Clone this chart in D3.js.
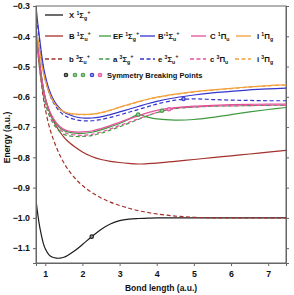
<!DOCTYPE html>
<html><head><meta charset="utf-8">
<script src="https://cdn.jsdelivr.net/npm/d3@7"></script>
<style>body{margin:0;background:#fff}svg{display:block}text{font-family:"Liberation Sans",Arial,sans-serif;font-weight:bold;fill:#111}</style>
</head><body>
<script>
// ---- data ----
const bondLength = [0.75,0.8,0.85,0.9,0.95,1.0,1.1,1.2,1.3,1.4,1.5,1.6,1.8,2.0,2.25,2.5,2.75,3.0,3.25,3.5,3.75,4.0,4.5,5.0,5.5,6.0,6.5,7.0,7.5];
const X1Sg = [-0.94,-0.99,-1.03,-1.06,-1.085,-1.102,-1.122,-1.13,-1.133,-1.133,-1.13,-1.124,-1.108,-1.088,-1.062,-1.038,-1.02,-1.009,-1.004,-1.002,-1.001,-1.0,-1.0,-1.0,-1.0,-1.0,-1.0,-1.0,-1.0];
const B1Su = [-0.39,-0.44,-0.49,-0.535,-0.575,-0.605,-0.645,-0.675,-0.698,-0.717,-0.733,-0.746,-0.766,-0.782,-0.797,-0.807,-0.813,-0.817,-0.82,-0.822,-0.821,-0.819,-0.813,-0.807,-0.801,-0.795,-0.789,-0.783,-0.777];
const EF1Sg = [-0.39,-0.44,-0.49,-0.535,-0.575,-0.605,-0.645,-0.672,-0.69,-0.703,-0.711,-0.716,-0.72,-0.721,-0.717,-0.709,-0.699,-0.688,-0.674,-0.659,-0.667,-0.673,-0.677,-0.675,-0.668,-0.659,-0.65,-0.642,-0.635];
const Bp1Su = [-0.30,-0.36,-0.41,-0.46,-0.50,-0.53,-0.575,-0.605,-0.625,-0.639,-0.65,-0.657,-0.666,-0.67,-0.67,-0.666,-0.659,-0.65,-0.641,-0.632,-0.623,-0.615,-0.603,-0.594,-0.587,-0.582,-0.577,-0.574,-0.571];
const C1Pu = [-0.39,-0.44,-0.49,-0.535,-0.573,-0.603,-0.642,-0.668,-0.686,-0.699,-0.707,-0.712,-0.716,-0.716,-0.713,-0.705,-0.695,-0.684,-0.673,-0.663,-0.653,-0.645,-0.636,-0.631,-0.628,-0.626,-0.625,-0.624,-0.624];
const I1Pg = [-0.37,-0.41,-0.45,-0.49,-0.52,-0.545,-0.585,-0.612,-0.63,-0.642,-0.649,-0.653,-0.657,-0.658,-0.657,-0.652,-0.644,-0.634,-0.625,-0.616,-0.608,-0.601,-0.591,-0.583,-0.577,-0.572,-0.567,-0.563,-0.56];
const b3Su = [-0.39,-0.45,-0.51,-0.56,-0.605,-0.64,-0.695,-0.735,-0.767,-0.795,-0.818,-0.838,-0.869,-0.893,-0.916,-0.934,-0.948,-0.959,-0.968,-0.976,-0.982,-0.987,-0.994,-0.998,-1.0,-1.0,-1.0,-1.0,-1.0];
const a3Sg = [-0.40,-0.455,-0.51,-0.555,-0.593,-0.623,-0.66,-0.686,-0.703,-0.716,-0.724,-0.728,-0.731,-0.731,-0.728,-0.72,-0.71,-0.699,-0.687,-0.675,-0.663,-0.652,-0.639,-0.634,-0.631,-0.63,-0.629,-0.628,-0.628];
const e3Su = [-0.32,-0.37,-0.42,-0.47,-0.51,-0.54,-0.585,-0.615,-0.635,-0.65,-0.66,-0.667,-0.675,-0.679,-0.679,-0.675,-0.668,-0.66,-0.651,-0.642,-0.633,-0.624,-0.611,-0.607,-0.609,-0.611,-0.612,-0.613,-0.613];
const c3Pu = [-0.40,-0.45,-0.50,-0.545,-0.583,-0.613,-0.652,-0.678,-0.696,-0.709,-0.717,-0.722,-0.726,-0.727,-0.724,-0.716,-0.706,-0.695,-0.684,-0.673,-0.662,-0.652,-0.638,-0.634,-0.631,-0.63,-0.629,-0.628,-0.628];
const i3Pg = [-0.371,-0.411,-0.451,-0.491,-0.521,-0.546,-0.586,-0.613,-0.631,-0.643,-0.65,-0.654,-0.658,-0.659,-0.658,-0.653,-0.645,-0.635,-0.626,-0.617,-0.609,-0.602,-0.592,-0.584,-0.578,-0.573,-0.568,-0.564,-0.561];
const breakR = [2.25,3.5,4.14,4.72,4.33];
const breakE = [-1.062,-0.659,-0.646,-0.607,-0.641];
const breakState = ["X","EF","a","e","c"];
const xTicks = [1,2,3,4,5,6,7];
const yTicks = [-0.3,-0.4,-0.5,-0.6,-0.7,-0.8,-0.9,-1.0,-1.1];
const xTitle = "Bond length (a.u.)";
const yTitle = "Energy (a.u.)";
const breakLabel = "Symmetry Breaking Points";

// ---- styles ----
const C = {black:"#1c1c1c", red:"#a3302a", green:"#3f9a3f", blue:"#3535cc", pink:"#e4509c", orange:"#f2a03c"};
const series = [
  {id:"i", v:i3Pg, c:C.orange, d:true, lab:["i ","3","Π","g",""]},
  {id:"X", v:X1Sg, c:C.black, d:false, lab:["X ","1","Σ","g","+"]},
  {id:"B", v:B1Su, c:C.red, d:false, lab:["B ","1","Σ","u","+"]},
  {id:"b", v:b3Su, c:C.red, d:true, lab:["b ","3","Σ","u","+"]},
  {id:"a", v:a3Sg, c:C.green, d:true, lab:["a ","3","Σ","g","+"]},
  {id:"c", v:c3Pu, c:C.pink, d:true, lab:["c ","3","Π","u",""]},
  {id:"EF", v:EF1Sg, c:C.green, d:false, lab:["EF ","1","Σ","g","+"]},
  {id:"C", v:C1Pu, c:C.pink, d:false, lab:["C ","1","Π","u",""]},
  {id:"e", v:e3Su, c:C.blue, d:true, lab:["e ","3","Σ","u","+"]},
  {id:"Bp", v:Bp1Su, c:C.blue, d:false, lab:["B'","1","Σ","u","+"]},
  {id:"I", v:I1Pg, c:C.orange, d:false, lab:["I ","1","Π","g",""]}
];
const byId = Object.fromEntries(series.map(s=>[s.id,s]));

const W=294,H=295, m={l:36,r:8,t:6,b:32};
const svg=d3.select("body").append("svg").attr("width",W).attr("height",H);
const x=d3.scaleLinear().domain([0.75,7.48]).range([m.l,W-m.r]);
const y=d3.scaleLinear().domain([-1.149,-0.3]).range([H-m.b,m.t]);

// frame
svg.append("rect").attr("x",m.l).attr("y",m.t).attr("width",W-m.l-m.r).attr("height",H-m.t-m.b)
  .attr("fill","none").attr("stroke","#666").attr("stroke-width",1);

const plot=svg.append("g");
plot.append("clipPath").attr("id","cp").append("rect").attr("x",m.l).attr("y",m.t-1).attr("width",W-m.l-m.r).attr("height",H-m.t-m.b+1);
const lg=plot.append("g").attr("clip-path","url(#cp)");
const line=d3.line().x((d,i)=>x(bondLength[i])).y(d=>y(d)).curve(d3.curveCatmullRom.alpha(0.5));
series.forEach(s=>{
  lg.append("path").attr("d",line(s.v)).attr("fill","none").attr("stroke",s.c)
    .attr("stroke-width",1.2).attr("stroke-dasharray",s.d?"4,2.5":null);
});

// markers
function marker(g,cx,cy,col){
  g.append("circle").attr("cx",cx).attr("cy",cy).attr("r",2.3).attr("fill",col);
  g.append("path").attr("d",`M${cx-1.4},${cy}H${cx+1.4}M${cx},${cy-1.4}V${cy+1.4}`).attr("stroke","#fff").attr("stroke-width",0.7).attr("opacity",0.7);
}
breakR.forEach((r,i)=>marker(svg,x(r),y(breakE[i]),byId[breakState[i]].c));

// axes
const axL=svg.append("g").attr("transform",`translate(${m.l},0)`).call(d3.axisLeft(y).tickValues(yTicks).tickSize(3).tickFormat(d3.format(".1f")));
const axR=svg.append("g").attr("transform",`translate(${W-m.r},0)`).call(d3.axisRight(y).tickValues(yTicks).tickSize(3).tickFormat(""));
const axB=svg.append("g").attr("transform",`translate(0,${H-m.b})`).call(d3.axisBottom(x).tickValues(xTicks).tickSize(3).tickFormat(d3.format("d")));
[axL,axR,axB].forEach(a=>{a.select(".domain").attr("stroke","#666");a.selectAll(".tick line").attr("stroke","#666");
  a.selectAll("text").attr("font-size",8.8).attr("font-family","Liberation Sans, Arial, sans-serif").attr("font-weight","bold").attr("fill","#111");});
axL.selectAll("text").attr("x",-6);
axB.selectAll("text").attr("y",8);

svg.append("text").attr("x",(m.l+W-m.r)/2).attr("y",291).attr("text-anchor","middle").attr("font-size",8.5).text(xTitle);
svg.append("text").attr("transform",`translate(10,${(m.t+H-m.b)/2+3}) rotate(-90)`).attr("text-anchor","middle").attr("font-size",8.5).text(yTitle);

// legend
function label(g,tx,ty,lab){
  const t=g.append("text").attr("x",tx).attr("y",ty).attr("font-size",7.8);
  t.append("tspan").text(lab[0]);
  t.append("tspan").attr("font-size",5.2).attr("dy",-3.2).text(lab[1]);
  t.append("tspan").attr("dy",3.2).text(lab[2]);
  t.append("tspan").attr("font-size",5.2).attr("dy",2.2).text(lab[3]);
  if(lab[4]) t.append("tspan").attr("font-size",5.6).attr("dy",-6).text(lab[4]);
}
const legRows=[
  {y:15, items:[["X",45,63,69]]},
  {y:36, items:[["B",45,63,69],["EF",99,111,113],["Bp",140,155,158],["C",191,206,210],["I",236,251,257]]},
  {y:59, items:[["b",45,63,69],["a",99,111,113],["e",140,155,158],["c",190,206,210],["i",235,251,257]]}
];
const leg=svg.append("g");
legRows.forEach(row=>row.items.forEach(([id,x1,x2,tx])=>{
  const s=byId[id];
  leg.append("line").attr("x1",x1).attr("x2",x2).attr("y1",row.y).attr("y2",row.y).attr("stroke",s.c).attr("stroke-width",1.3).attr("stroke-dasharray",s.d?"4,2.5":null);
  label(leg,tx,row.y+3,s.lab);
}));
const legMk=[66,75,83,92,100];
breakState.forEach((id,i)=>marker(leg,legMk[i],75,byId[id].c));
leg.append("text").attr("x",107).attr("y",78).attr("font-size",7.5).text(breakLabel);
</script>
</body></html>
